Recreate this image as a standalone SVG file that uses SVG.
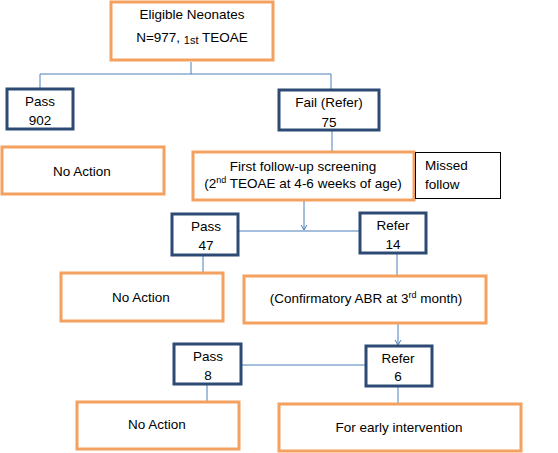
<svg xmlns="http://www.w3.org/2000/svg" width="558" height="453" viewBox="0 0 558 453">
<defs>
<marker id="arr" markerWidth="8" markerHeight="8" refX="6" refY="4" orient="auto" markerUnits="userSpaceOnUse">
<path d="M1,1 L6,4 L1,7" fill="none" stroke="#4A7EBB" stroke-width="1"/>
</marker>
</defs>
<style>
.o{fill:#fff;stroke:#F4A05E;stroke-width:3}
.b{fill:#fff;stroke:#2C4A74;stroke-width:3}
.k{fill:#fff;stroke:#000;stroke-width:1}
.c{fill:none;stroke:#4A7EBB;stroke-width:1}
text{font-family:"Liberation Sans",Arial,sans-serif;font-size:13.5px;fill:#000}
.m{text-anchor:middle}
</style>
<rect width="558" height="453" fill="#fff"/>
<g id="connectors">
<path class="c" d="M191,62 V74 M40,74 H331 M40,74 V88 M331,74 V89"/>
<path class="c" d="M332,131 V151"/>
<path class="c" d="M398,175 H414" marker-end="url(#arr)"/>
<path class="c" d="M304,201 V230" marker-end="url(#arr)"/>
<path class="c" d="M239,231 H359"/>
<path class="c" d="M203,256 V272"/>
<path class="c" d="M397,254 V275"/>
<path class="c" d="M398,324 V345" marker-end="url(#arr)"/>
<path class="c" d="M242,365 H365"/>
<path class="c" d="M207,385 V401"/>
<path class="c" d="M398,387 V403"/>
</g>
<g id="n-eligible">
<rect class="o" x="111" y="2" width="162" height="58"/>
<text class="m" x="192" y="19">Eligible Neonates</text>
<text class="m" x="192" y="42">N=977, <tspan font-size="11" dy="2">1st</tspan><tspan dy="-2"> TEOAE</tspan></text>
</g>
<g id="n-pass902">
<rect class="b" x="7" y="89" width="66" height="40"/>
<text class="m" x="40" y="106">Pass</text>
<text class="m" x="40" y="125">902</text>
</g>
<g id="n-fail75">
<rect class="b" x="279" y="90" width="100" height="40"/>
<text class="m" x="329" y="107">Fail (Refer)</text>
<text class="m" x="329" y="127">75</text>
</g>
<g id="n-noaction1">
<rect class="o" x="2" y="147" width="162" height="47"/>
<text class="m" x="82" y="176">No Action</text>
</g>
<g id="n-followup">
<rect class="o" x="193" y="152" width="221" height="48"/>
<text class="m" x="303" y="171">First follow-up screening</text>
<text class="m" x="303" y="188">(2<tspan font-size="9" dy="-5">nd</tspan><tspan dy="5"> TEOAE at 4-6 weeks of age)</tspan></text>
</g>
<g id="n-missed">
<rect class="k" x="415.5" y="152.5" width="85" height="46"/>
<text x="425" y="170">Missed</text>
<text x="425" y="189">follow</text>
</g>
<g id="n-pass47">
<rect class="b" x="172" y="214" width="66" height="41"/>
<text class="m" x="206" y="231">Pass</text>
<text class="m" x="206" y="250">47</text>
</g>
<g id="n-refer14">
<rect class="b" x="360" y="213" width="66" height="40"/>
<text class="m" x="393" y="230">Refer</text>
<text class="m" x="393" y="249">14</text>
</g>
<g id="n-noaction2">
<rect class="o" x="61" y="273" width="162" height="48"/>
<text class="m" x="141" y="302">No Action</text>
</g>
<g id="n-abr">
<rect class="o" x="244" y="276" width="242" height="47"/>
<text class="m" x="366" y="303">(Confirmatory ABR at 3<tspan font-size="9" dy="-5">rd</tspan><tspan dy="5"> month)</tspan></text>
</g>
<g id="n-pass8">
<rect class="b" x="174" y="344" width="67" height="40"/>
<text class="m" x="208" y="361">Pass</text>
<text class="m" x="208" y="380">8</text>
</g>
<g id="n-refer6">
<rect class="b" x="366" y="346" width="66" height="40"/>
<text class="m" x="398" y="363">Refer</text>
<text class="m" x="398" y="381">6</text>
</g>
<g id="n-noaction3">
<rect class="o" x="77" y="402" width="162" height="47"/>
<text class="m" x="157" y="429">No Action</text>
</g>
<g id="n-intervention">
<rect class="o" x="279" y="404" width="242" height="47"/>
<text class="m" x="399" y="432">For early intervention</text>
</g>
</svg>
